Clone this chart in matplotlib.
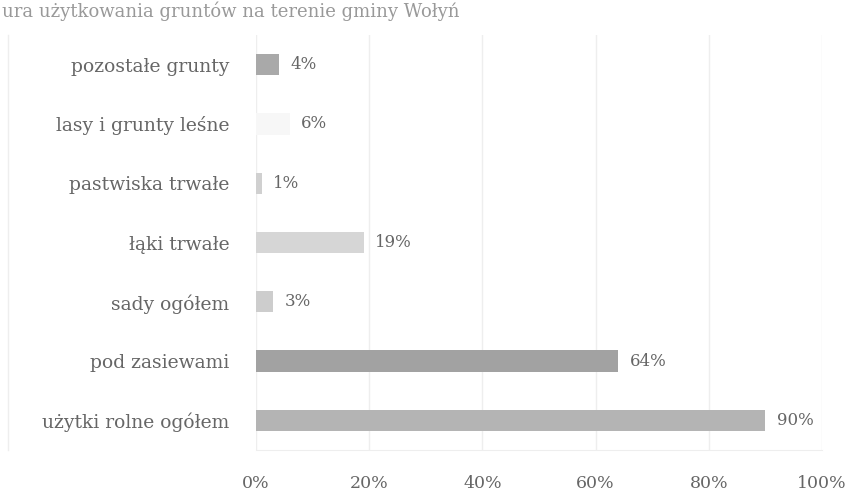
import matplotlib
matplotlib.use("Agg")
import matplotlib.pyplot as plt
from matplotlib.ticker import FuncFormatter

categories = ["użytki rolne ogółem", "pod zasiewami", "sady ogółem", "łąki trwałe",
              "pastwiska trwałe", "lasy i grunty leśne", "pozostałe grunty"]
values = [90, 64, 3, 19, 1, 6, 4]
colors = ["#b4b4b4", "#a2a2a2", "#cdcdcd", "#d6d6d6", "#d0d0d0", "#f7f7f7", "#a9a9a9"]
xticks = [0, 20, 40, 60, 80, 100]
title = "ura użytkowania gruntów na terenie gminy Wołyń"

plt.rcParams['font.family'] = ['DejaVu Serif']

fig = plt.figure(figsize=(8.63, 5.04), dpi=100)
ax = fig.add_axes([256/863, 1-450/504, (822-256)/863, (450-35)/504])

y = list(range(len(categories)))
ax.barh(y, values, height=0.36, color=colors, zorder=3)
for yi, v in zip(y, values):
    ax.text(v + 2.0, yi, f"{v}%", va='center', ha='left', fontsize=12, color='#666666')

ax.set_xlim(0, 100)
ax.set_ylim(-0.5, len(categories) - 0.5)
ax.set_xticks(xticks)
ax.xaxis.set_major_formatter(FuncFormatter(lambda v, p: f"{int(v)}%"))
ax.set_yticks(y)
ax.set_yticklabels(categories)
ax.tick_params(axis='y', length=0, labelsize=13.5, colors='#666666', pad=19)
ax.tick_params(axis='x', length=0, labelsize=12.5, colors='#666666', pad=18)
ax.grid(axis='x', color='#eeeeee', linewidth=1, zorder=0)
for s in ['top', 'right', 'left']:
    ax.spines[s].set_visible(False)
ax.spines['bottom'].set_color('#eeeeee')

fig.text(2/863, 1-17/504, title, fontsize=13, color='#999999', ha='left', va='baseline')
fig.add_artist(plt.Line2D([8/863, 8/863], [1-450/504, 1-35/504], color='#eeeeee', lw=1))

fig.savefig("out.png", dpi=100)
